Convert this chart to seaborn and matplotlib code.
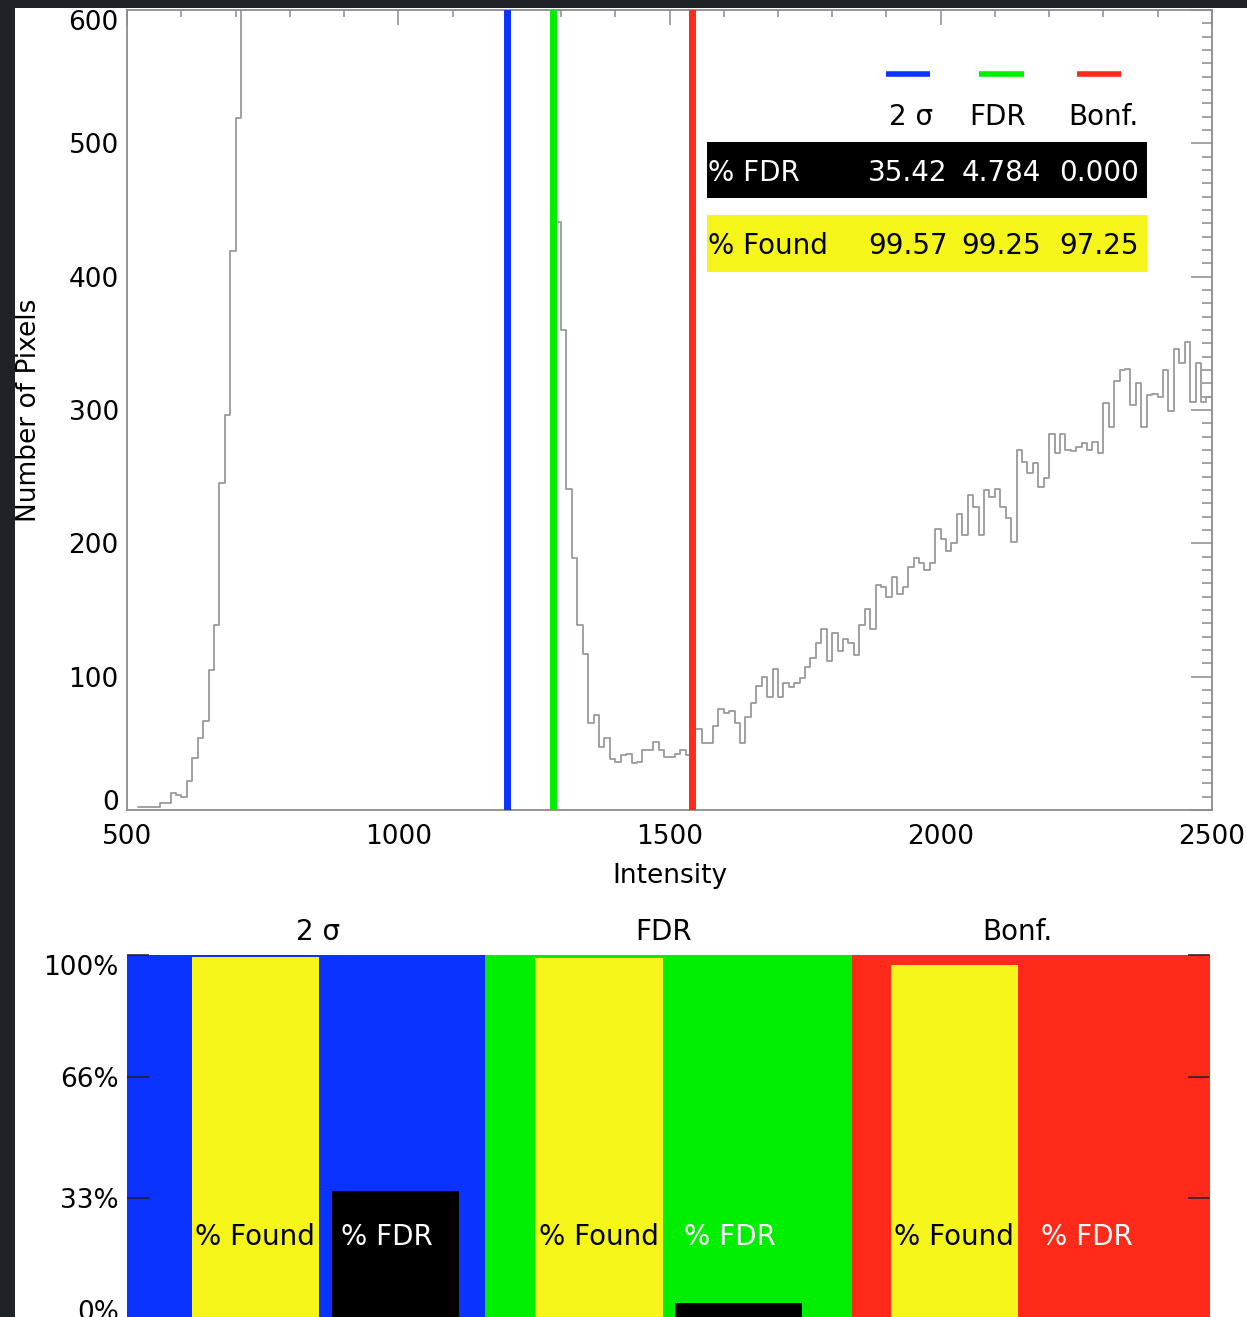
import numpy as np
import pandas as pd
import matplotlib
matplotlib.use("Agg")
import matplotlib.pyplot as plt
import matplotlib.transforms as mtransforms
from matplotlib.patches import Rectangle
import seaborn as sns

# ---------------- data ----------------
bin_start = 520
bin_width = 10
counts_rise = [2, 2, 2, 2, 5, 5, 13, 11, 10, 22, 39, 54, 67, 105, 139, 245, 296, 419, 519]
# main peak, above the 600 ceiling of the plot (clipped)
counts_peak = [780, 1050, 1400, 1850, 2350, 2900, 3450, 3950, 4400, 4750,
               5000, 5150, 5200, 5150, 5000, 4800, 4550, 4300, 4050, 3800,
               3550, 3300, 3100, 2900, 2700, 2550, 2400, 2250, 2150, 2050,
               1950, 1880, 1800, 1740, 1680, 1630, 1580, 1540, 1500, 1470,
               1440, 1410, 1380, 1350, 1320, 1290, 1250, 1210, 1170, 1120,
               1060, 1000, 930, 860, 790, 720, 660, 610]
counts_dip = [441, 360, 241, 189, 139, 117, 65, 71, 47, 54, 38, 36, 41, 42, 35,
              36, 45, 45, 51, 45, 40, 40, 42, 45, 41]
counts_tail = [61, 61, 50, 50, 63, 76, 73, 74, 65, 50,
               70, 80, 93, 100, 85, 106, 85, 95, 92, 95,
               99, 107, 114, 125, 136, 112, 133, 119, 128, 125,
               116, 139, 151, 136, 169, 167, 160, 175, 162, 167,
               182, 189, 185, 180, 185, 211, 203, 194, 200, 222,
               206, 236, 227, 206, 240, 235, 241, 227, 219, 201,
               270, 261, 253, 260, 242, 249, 282, 268, 282, 270,
               269, 272, 275, 270, 276, 268, 305, 287, 322, 330,
               331, 304, 320, 287, 311, 312, 310, 330, 299, 346,
               335, 351, 306, 335, 306, 310]

methods = ["2 σ", "FDR", "Bonf."]
thresholds = [1200, 1286, 1541]
pct_fdr = [35.42, 4.784, 0.000]
pct_found = [99.57, 99.25, 97.25]
pct_ticks = [0, 100 / 3, 200 / 3, 100]
pct_tick_labels = ["0%", "33%", "66%", "100%"]
hist_yticks = [0, 100, 200, 300, 400, 500, 600]
hist_xticks = [500, 1000, 1500, 2000, 2500]

# ---------------- style ----------------
sns.set_style("white")
plt.rcParams["font.family"] = ["DejaVu Sans"]

BLUE, GREEN, RED = "#0b33ff", "#00ee00", "#ff2a1a"
YELLOW = "#f5f51a"
method_colors = [BLUE, GREEN, RED]
GRAY = "#8c8c8c"

W, H = 1247, 1317
fig = plt.figure(figsize=(W / 100, H / 100), dpi=100)
fig.patch.set_facecolor("#1f2327")
fig.patches.append(Rectangle((15 / W, 0), 1 - 15 / W, 1 - 8 / H,
                             transform=fig.transFigure, facecolor="white",
                             edgecolor="none", zorder=-5))

def fmt(v):
    return f"{v:.3f}" if v < 10 else f"{v:.2f}"

# ---------------- histogram panel ----------------
L = 127.2 / W
AW = 1084.6 / W
ax_h = fig.add_axes([L, 1 - 810 / H, AW, 800 / H])

counts = np.array(counts_rise + counts_peak + counts_dip + counts_tail, dtype=float)
n_bins = len(counts)
hist_df = pd.DataFrame({"intensity": bin_start + bin_width * (np.arange(n_bins) + 0.5),
                        "pixels": counts})
sns.histplot(data=hist_df, x="intensity", weights="pixels", binwidth=bin_width,
             binrange=(bin_start, bin_start + bin_width * n_bins),
             element="step", fill=False, color="#9a9a9a", linewidth=1.3, ax=ax_h)

for t, c in zip(thresholds, method_colors):
    ax_h.axvline(t, color=c, linewidth=5, zorder=4)

ax_h.set_xlim(500, 2500)
ax_h.set_ylim(0, 600)
ax_h.set_xticks(hist_xticks)
ax_h.set_xticks(np.arange(500, 2501, 100), minor=True)
ax_h.set_yticks(hist_yticks)
ax_h.set_yticks(np.arange(0, 601, 10), minor=True)
ax_h.tick_params(axis="both", which="both", direction="in", top=True, right=True,
                 color=GRAY, width=1.1, labelsize=19, labelcolor="black")
ax_h.tick_params(axis="x", which="major", length=11, pad=10)
ax_h.tick_params(axis="x", which="minor", length=5)
ax_h.tick_params(axis="y", which="major", length=15, pad=6)
ax_h.tick_params(axis="y", which="minor", length=7.5)
ax_h.yaxis.get_major_ticks()[-1].label1.set_verticalalignment("top")
ax_h.yaxis.get_major_ticks()[0].label1.set_verticalalignment("baseline")
for s in ax_h.spines.values():
    s.set_color(GRAY)
    s.set_linewidth(1.3)
ax_h.set_xlabel("Intensity", fontsize=19, color="black")
ax_h.set_ylabel("Number of Pixels", fontsize=19, color="black")
ax_h.xaxis.set_label_coords(0.5, -0.066)
ax_h.yaxis.set_label_coords(-0.079, 0.5)

# in-plot legend / table
col_x = [1940, 2112, 2292]
for x, c in zip(col_x, method_colors):
    ax_h.plot([x - 41, x + 41], [552, 552], color=c, linewidth=4,
              solid_capstyle="butt", zorder=5)
for x, m in zip([1945, 2105, 2300], methods):
    ax_h.text(x, 520, m, ha="center", va="center", fontsize=20, color="black")
ax_h.add_patch(Rectangle((1568.6, 458.8), 811.4, 42.4, facecolor="black",
                         edgecolor="none", zorder=5))
ax_h.add_patch(Rectangle((1568.6, 403.7), 811.4, 42.5, facecolor=YELLOW,
                         edgecolor="none", zorder=5))
ax_h.text(1571, 478, "% FDR", ha="left", va="center", fontsize=20, color="white", zorder=6)
ax_h.text(1571, 423, "% Found", ha="left", va="center", fontsize=20, color="black", zorder=6)
for x, vf, vd in zip(col_x, pct_found, pct_fdr):
    ax_h.text(x, 478, fmt(vd), ha="center", va="center", fontsize=20, color="white", zorder=6)
    ax_h.text(x, 423, fmt(vf), ha="center", va="center", fontsize=20, color="black", zorder=6)

# ---------------- percentage bar panel ----------------
ax_b = fig.add_axes([L, -3 / H, 1083 / W, 365 / H])
group_edges = [0.0, 0.99, 2.008, 3.0]
for i, c in enumerate(method_colors):
    ax_b.bar(group_edges[i], 100, width=group_edges[i + 1] - group_edges[i],
             align="edge", color=c, linewidth=0, zorder=0.5)
bar_w = 0.352
found_left = [0.179, 1.131, 2.115]
fdr_left = [0.567, 1.518, 2.506]
ax_b.bar(found_left, pct_found, width=bar_w, align="edge", color=YELLOW,
         linewidth=0, zorder=1)
ax_b.bar(fdr_left, pct_fdr, width=bar_w, align="edge", color="black",
         linewidth=0, zorder=1)
for i in range(3):
    ax_b.text(found_left[i] + bar_w / 2, 22.7, "% Found", ha="center", va="center",
              fontsize=20, color="black", zorder=3)
    ax_b.text(fdr_left[i] + 0.025, 22.7, "% FDR", ha="left", va="center",
              fontsize=20, color="white", zorder=3)
trans = mtransforms.blended_transform_factory(ax_b.transData, ax_b.transAxes)
for x, m in zip([0.528, 1.485, 2.465], methods):
    ax_b.text(x, 1.063, m, transform=trans, ha="center", va="center",
              fontsize=20, color="black")
ax_b.set_xlim(0, 3)
ax_b.set_ylim(0, 100)
ax_b.set_xticks([])
ax_b.set_yticks(pct_ticks)
ax_b.set_yticklabels(pct_tick_labels)
ax_b.tick_params(axis="y", direction="in", left=True, right=True, length=16,
                 width=1.1, color="#202020", labelsize=19, labelcolor="black", pad=6)
ax_b.yaxis.get_major_ticks()[-1].label1.set_verticalalignment("top")
ax_b.yaxis.get_major_ticks()[0].label1.set_verticalalignment("baseline")
for s in ax_b.spines.values():
    s.set_visible(False)

fig.savefig("out.png", dpi=100, facecolor=fig.get_facecolor())
